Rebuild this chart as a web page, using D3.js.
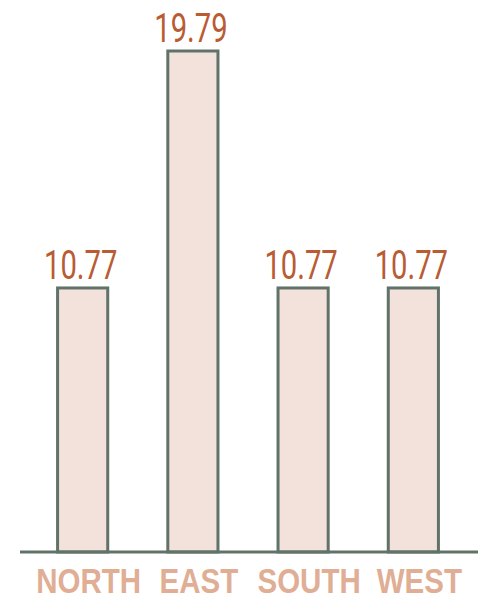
<!DOCTYPE html>
<html>
<head>
<meta charset="utf-8">
<script src="https://cdn.jsdelivr.net/npm/d3@7"></script>
<style>
  body { margin: 0; background: #fff; }
  svg { display: block; }
</style>
</head>
<body>
<svg id="chart" width="478" height="606"></svg>
<script>
var REGIONS = ["NORTH", "EAST", "SOUTH", "WEST"];
var VALUES = [10.77, 19.79, 10.77, 10.77];

var BAR_FILL = "#f2e2db";
var BAR_STROKE = "#617268";
var VALUE_COLOR = "#b95b33";
var LABEL_COLOR = "#dfae94";

var svg = d3.select("#chart");

var baseline = 552;

var x = d3.scaleBand()
	.domain(REGIONS)
	.range([19, 477])
	.paddingInner(0.545)
	.paddingOuter(0.35);

// zero sits a little below the axis line
var y = d3.scaleLinear()
	.domain([0.72, d3.max(VALUES)])
	.range([baseline, 51]);

var data = REGIONS.map(function(r, i) {
	return { region: r, value: VALUES[i] };
});

function cx(d) {
	return x(d.region) + x.bandwidth() / 2;
}

// bars
svg.selectAll("rect.bar").data(data).enter().append("rect")
	.attr("class", "bar")
	.attr("x", function(d) { return x(d.region); })
	.attr("y", function(d) { return y(d.value); })
	.attr("width", x.bandwidth())
	.attr("height", function(d) { return baseline - y(d.value); })
	.attr("fill", BAR_FILL)
	.attr("stroke", BAR_STROKE)
	.attr("stroke-width", 3);

// axis line
svg.append("line")
	.attr("x1", 20)
	.attr("x2", 478)
	.attr("y1", baseline)
	.attr("y2", baseline)
	.attr("stroke", BAR_STROKE)
	.attr("stroke-width", 3);

// value labels (condensed by squeezing horizontally)
svg.selectAll("text.value").data(data).enter().append("text")
	.attr("class", "value")
	.attr("transform", function(d) {
		return "translate(" + (cx(d) - 2) + "," + (y(d.value) - 9) + ") scale(0.73,1)";
	})
	.attr("text-anchor", "middle")
	.attr("font-family", "Roboto, 'Liberation Sans', sans-serif")
	.attr("font-weight", 400)
	.attr("font-size", 40)
	.attr("fill", VALUE_COLOR)
	.text(function(d) { return d.value.toFixed(2); });

// category labels
svg.selectAll("text.cat").data(data).enter().append("text")
	.attr("class", "cat")
	.attr("transform", function(d) {
		return "translate(" + (cx(d) + 6) + ",593) scale(0.82,1)";
	})
	.attr("text-anchor", "middle")
	.attr("font-family", "'Liberation Sans', Arial, sans-serif")
	.attr("font-weight", "bold")
	.attr("font-size", 36)
	.attr("fill", LABEL_COLOR)
	.text(function(d) { return d.region; });
</script>
</body>
</html>
